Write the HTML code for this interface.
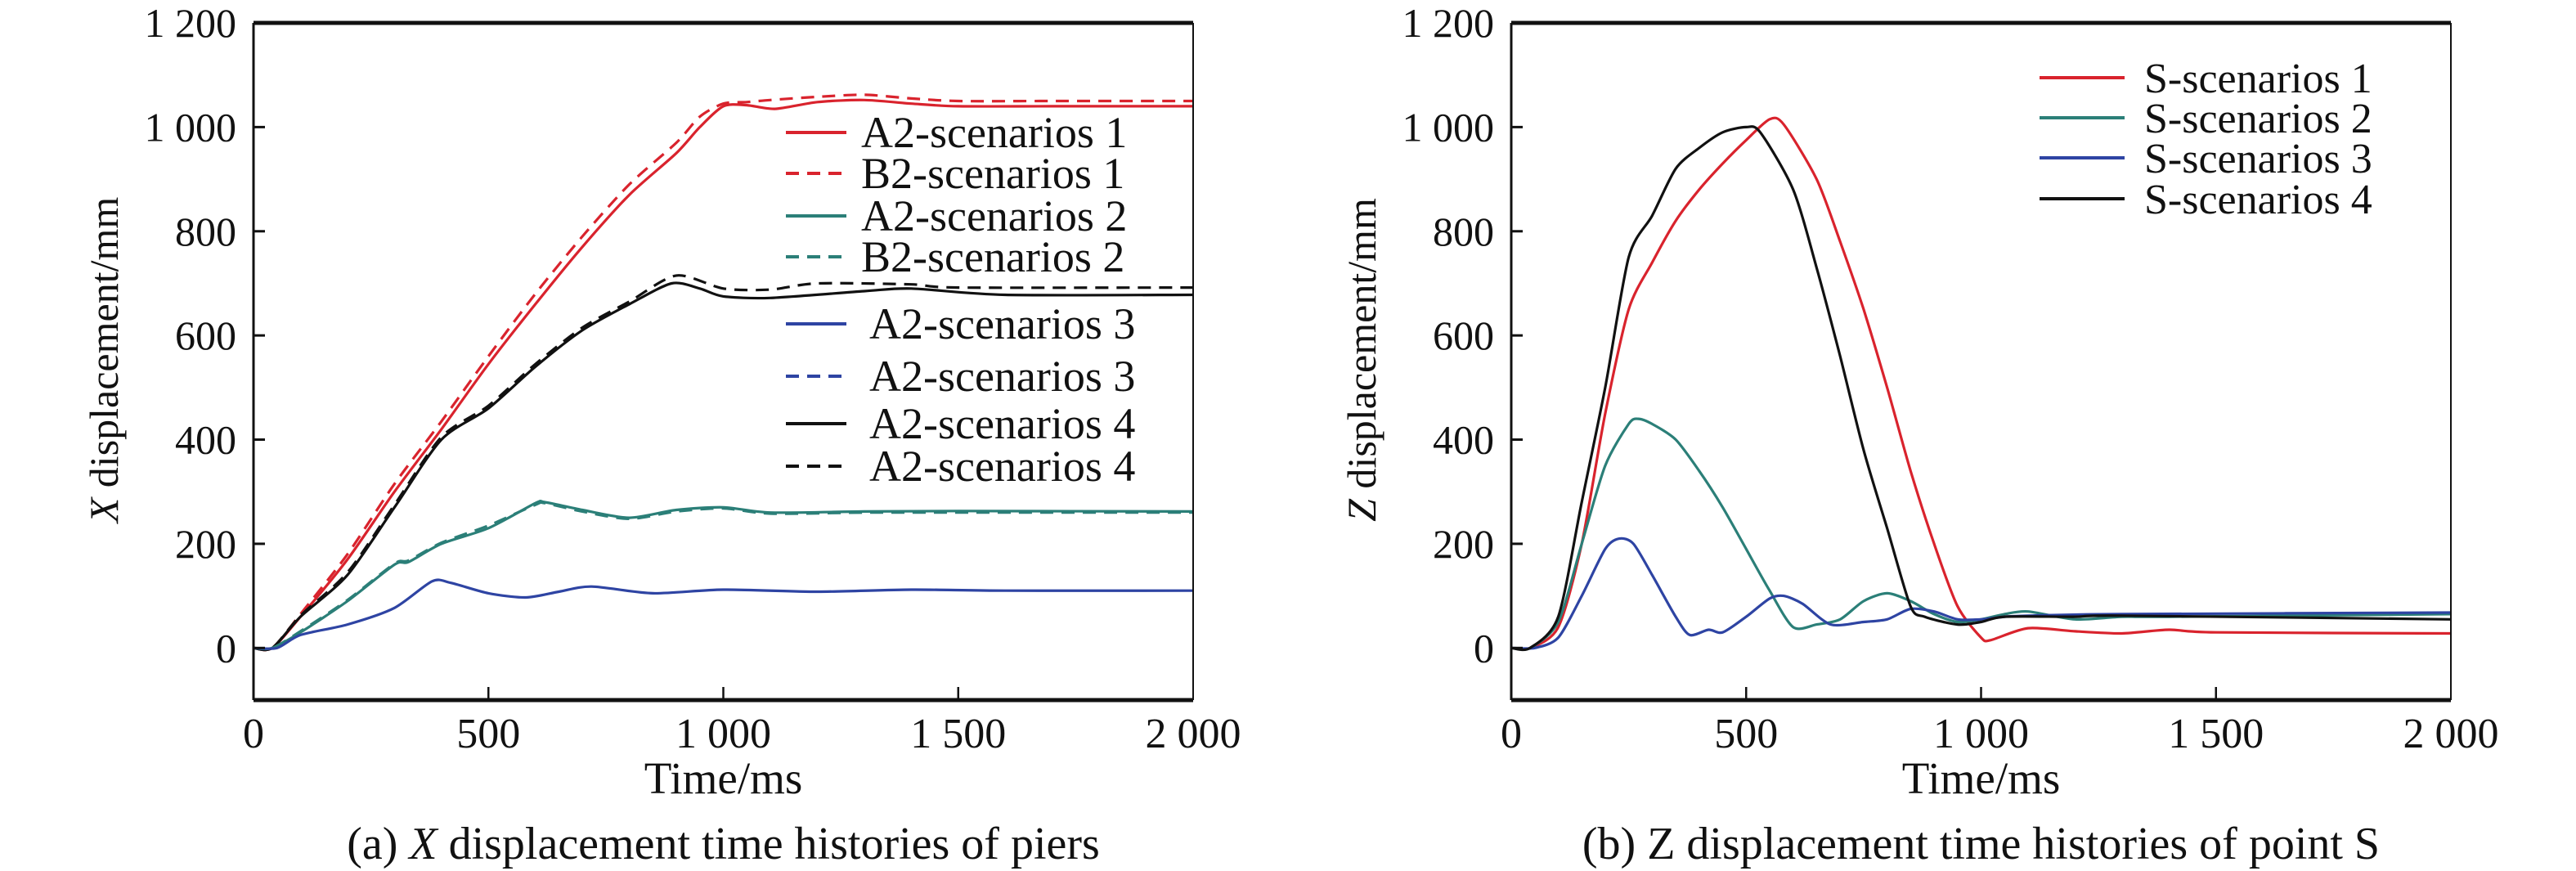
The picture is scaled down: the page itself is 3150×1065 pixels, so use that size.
<!DOCTYPE html>
<html><head><meta charset="utf-8">
<style>
html,body{margin:0;padding:0;background:#fff;}
svg{display:block;font-family:"Liberation Serif",serif;}
</style></head>
<body>
<svg id="chart" width="3150" height="1065" viewBox="0 0 3150 1065" xmlns="http://www.w3.org/2000/svg"></svg>
<script>
// ---- Panel (a) data: X displacement (mm) vs time (ms)
const a_A2s1_t = [0,40,100,200,300,400,500,600,700,800,900,950,1000,1050,1110,1200,1300,1400,1500,1700,2000];
const a_A2s1_v = [0,0,60,170,300,420,545,660,770,870,950,1000,1040,1042,1035,1048,1052,1045,1040,1040,1040];
const a_B2s1_t = [0,40,100,200,300,400,500,600,700,800,900,950,1000,1050,1100,1200,1300,1400,1500,1700,2000];
const a_B2s1_v = [0,0,65,180,315,435,560,680,790,890,970,1020,1045,1048,1052,1058,1062,1055,1050,1050,1050];
const a_A2s2_t = [0,40,100,200,300,330,400,500,600,620,700,800,900,1000,1100,1300,1500,2000];
const a_A2s2_v = [0,0,30,90,160,165,200,230,278,280,265,250,265,270,260,262,263,262];
const a_B2s2_t = [0,40,100,200,300,330,400,500,600,620,700,800,900,1000,1100,1300,1500,2000];
const a_B2s2_v = [0,0,32,92,162,168,202,235,275,278,262,248,262,268,258,260,260,260];
const a_A2s3_t = [0,50,100,200,300,380,420,500,580,650,720,850,1000,1200,1400,1600,2000];
const a_A2s3_v = [0,0,25,45,77,128,125,105,97,108,118,105,112,108,112,110,110];
const a_A2s4_t = [0,40,100,200,300,400,500,600,700,800,890,950,1000,1100,1300,1400,1600,2000];
const a_A2s4_v = [0,0,60,140,270,400,460,540,610,660,700,690,675,672,685,690,678,678];
const a_B2s4_t = [0,40,100,200,300,400,500,600,700,800,900,1000,1100,1200,1400,1500,2000];
const a_B2s4_v = [0,0,62,145,275,405,465,545,615,665,715,690,688,700,698,692,692];

// ---- Panel (b) data: Z displacement (mm) vs time (ms)
const b_S1_t = [0,40,100,150,200,250,300,350,400,450,500,550,580,650,700,750,800,850,900,950,1000,1020,1100,1200,1300,1400,1500,2000];
const b_S1_v = [0,0,40,200,450,650,740,820,880,930,975,1015,1005,900,780,650,500,340,200,80,20,15,38,32,28,35,30,28];
const b_S2_t = [0,40,100,150,200,250,270,300,350,400,450,500,550,600,650,700,750,800,850,900,950,1000,1050,1100,1200,1300,1400,2000];
const b_S2_v = [0,0,50,200,350,430,440,430,400,340,270,190,110,40,45,55,90,105,90,65,50,55,65,70,55,60,60,65];
const b_S3_t = [0,50,100,150,200,230,260,300,350,380,420,450,500,550,580,620,680,750,800,850,900,950,1000,1050,1100,1300,2000];
const b_S3_v = [0,0,20,100,190,210,200,140,60,25,35,30,60,95,100,85,45,50,55,75,70,55,55,60,62,65,68];
const b_S4_t = [0,40,100,150,200,250,300,350,400,450,500,530,600,650,700,750,800,850,880,950,1000,1050,1200,1300,2000];
const b_S4_v = [0,0,60,280,500,750,830,920,960,990,1000,990,880,730,560,380,230,80,60,45,50,60,60,62,55];

const yTicks = [0,200,400,600,800,1000,1200];
const yTickLabels = ["0","200","400","600","800","1 000","1 200"];
const xTicks = [0,500,1000,1500,2000];
const xTickLabels = ["0","500","1 000","1 500","2 000"];

const RED="#d9232d", TEAL="#2b7f78", BLUE="#2e44a3", BLACK="#111";
const NS="http://www.w3.org/2000/svg";
const svg=document.getElementById('chart');
function mk(tag,attrs,parent){const e=document.createElementNS(NS,tag);for(const k in attrs)e.setAttribute(k,attrs[k]);(parent||svg).appendChild(e);return e;}

const TOP=28, BOT=856, YMIN=-100, YMAX=1200;
function yScale(v){return BOT-(v-YMIN)/(YMAX-YMIN)*(BOT-TOP);}

function smoothPath(pts){
  let d='M'+pts[0][0].toFixed(1)+','+pts[0][1].toFixed(1);
  for(let i=0;i<pts.length-1;i++){
    const p0=pts[Math.max(0,i-1)],p1=pts[i],p2=pts[i+1],p3=pts[Math.min(pts.length-1,i+2)];
    const k=1/6*0.8;
    const c1=[p1[0]+(p2[0]-p0[0])*k,p1[1]+(p2[1]-p0[1])*k];
    const c2=[p2[0]-(p3[0]-p1[0])*k,p2[1]-(p3[1]-p1[1])*k];
    d+=' C'+c1[0].toFixed(1)+','+c1[1].toFixed(1)+' '+c2[0].toFixed(1)+','+c2[1].toFixed(1)+' '+p2[0].toFixed(1)+','+p2[1].toFixed(1);
  }
  return d;
}

function panel(id, x0, x1, ylabel, ylabelItalic, caption, capItalic, series, legend, legX, legYs, legFont){
  const g=mk('g',{});
  
  
  const xs=v=>x0+v/2000*(x1-x0);
  series.forEach(s=>{
    const pts=s.t.map((t,i)=>[xs(t),yScale(s.v[i])]);
    const p=mk('path',{d:smoothPath(pts),fill:'none',stroke:s.c,'stroke-width':3.2,'stroke-linejoin':'round','stroke-dasharray':s.dash?'16,10':'none'},g);
    
    
  });
  mk('line',{x1:x0,y1:TOP,x2:x1,y2:TOP,stroke:'#111','stroke-width':5},g);
  mk('line',{x1:x0,y1:BOT,x2:x1,y2:BOT,stroke:'#111','stroke-width':5},g);
  mk('line',{x1:x0,y1:TOP,x2:x0,y2:BOT,stroke:'#111','stroke-width':3},g);
  mk('line',{x1:x1,y1:TOP,x2:x1,y2:BOT,stroke:'#111','stroke-width':2},g);
  yTicks.forEach((v,i)=>{
    const y=yScale(v);
    if(v<1200) mk('line',{x1:x0,y1:y,x2:x0+14,y2:y,stroke:'#111','stroke-width':3},g);
    const t=mk('text',{x:x0-21,y:y+17,'text-anchor':'end','font-size':50,fill:'#111'},g);
    t.textContent=yTickLabels[i];
    
    
  });
  xTicks.forEach((v,i)=>{
    const x=xs(v);
    if(v>0&&v<2000) mk('line',{x1:x,y1:BOT,x2:x,y2:BOT-16,stroke:'#111','stroke-width':2.5},g);
    const t=mk('text',{x:x,y:BOT+58,'text-anchor':'middle','font-size':52,fill:'#111'},g);
    t.textContent=xTickLabels[i];
    
    
  });
  const xt=mk('text',{x:(x0+x1)/2,y:970,'text-anchor':'middle','font-size':55,fill:'#111'},g);
  xt.textContent='Time/ms';
  
  
  const yt=mk('text',{x:0,y:0,'text-anchor':'middle','font-size':50,fill:'#111',transform:'translate('+(x0-166)+',440) rotate(-90)'},g);
  const it=mk('tspan',{'font-style':'italic'},yt); it.textContent=ylabelItalic;
  const rt=mk('tspan',{},yt); rt.textContent=ylabel;
  
  
  const ct=mk('text',{x:(x0+x1)/2,y:1050,'text-anchor':'middle','font-size':56,fill:'#111'},g);
  const c1=mk('tspan',{},ct); c1.textContent=caption[0];
  const c2=mk('tspan',{'font-style':capItalic?'italic':'normal'},ct); c2.textContent=caption[1];
  const c3=mk('tspan',{},ct); c3.textContent=caption[2];
  
  
  legend.forEach((l,i)=>{
    const y=legYs[i];
    mk('line',{x1:legX,y1:y,x2:legX+l.len,y2:y,stroke:l.c,'stroke-width':4,'stroke-dasharray':l.dash?'16,10':'none'},g);
    const t=mk('text',{x:legX+l.len+l.gap,y:y+18,'font-size':legFont,fill:'#111'},g);
    t.textContent=l.label;
    
    
  });
}

panel('panel-a-x-displacement',310,1459,' displacement/mm','X',['(a) ','X',' displacement time histories of piers'],true,[
  {name:'a2-scenarios-1',t:a_A2s1_t,v:a_A2s1_v,c:RED},
  {name:'b2-scenarios-1',t:a_B2s1_t,v:a_B2s1_v,c:RED,dash:1},
  {name:'a2-scenarios-4',t:a_A2s4_t,v:a_A2s4_v,c:BLACK},
  {name:'b2-scenarios-4',t:a_B2s4_t,v:a_B2s4_v,c:BLACK,dash:1},
  {name:'a2-scenarios-2',t:a_A2s2_t,v:a_A2s2_v,c:TEAL},
  {name:'b2-scenarios-2',t:a_B2s2_t,v:a_B2s2_v,c:TEAL,dash:1},
  {name:'a2-scenarios-3',t:a_A2s3_t,v:a_A2s3_v,c:BLUE}
],[
  {label:'A2-scenarios 1',c:RED,len:74,gap:18},
  {label:'B2-scenarios 1',c:RED,dash:1,len:74,gap:18},
  {label:'A2-scenarios 2',c:TEAL,len:74,gap:18},
  {label:'B2-scenarios 2',c:TEAL,dash:1,len:74,gap:18},
  {label:'A2-scenarios 3',c:BLUE,len:74,gap:28},
  {label:'A2-scenarios 3',c:BLUE,dash:1,len:74,gap:28},
  {label:'A2-scenarios 4',c:BLACK,len:74,gap:28},
  {label:'A2-scenarios 4',c:BLACK,dash:1,len:74,gap:28}
],961,[162,212,264,314,396,460,518,570],54);

panel('panel-b-z-displacement',1848,2997,' displacement/mm','Z',['(b) ','Z',' displacement time histories of point S'],false,[
  {name:'s-scenarios-1',t:b_S1_t,v:b_S1_v,c:RED},
  {name:'s-scenarios-2',t:b_S2_t,v:b_S2_v,c:TEAL},
  {name:'s-scenarios-3',t:b_S3_t,v:b_S3_v,c:BLUE},
  {name:'s-scenarios-4',t:b_S4_t,v:b_S4_v,c:BLACK}
],[
  {label:'S-scenarios 1',c:RED,len:104,gap:24},
  {label:'S-scenarios 2',c:TEAL,len:104,gap:24},
  {label:'S-scenarios 3',c:BLUE,len:104,gap:24},
  {label:'S-scenarios 4',c:BLACK,len:104,gap:24}
],2494,[95,144,193,243],52);
</script>
</body></html>
